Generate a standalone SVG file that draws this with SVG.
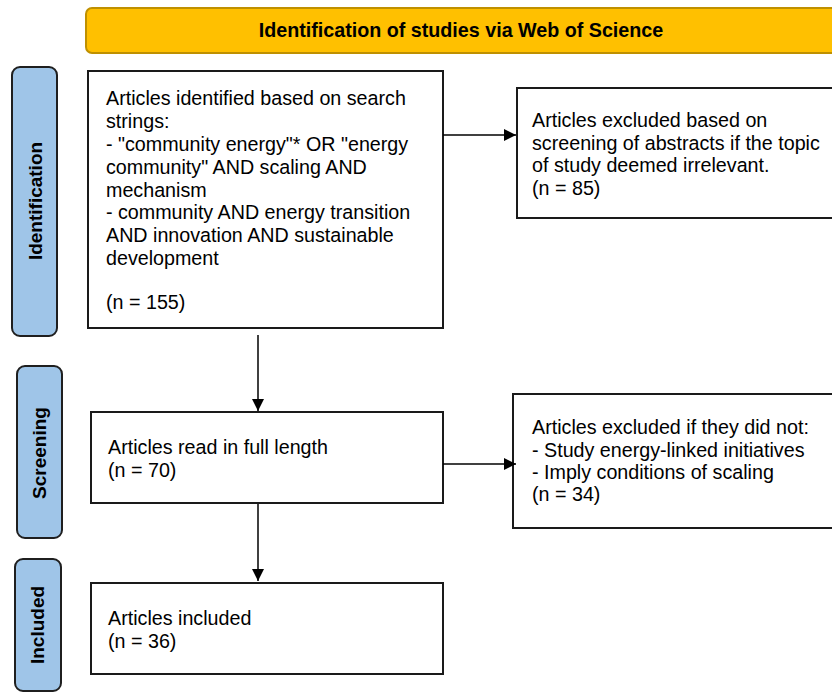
<svg xmlns="http://www.w3.org/2000/svg" width="832" height="693" viewBox="0 0 832 693">
<style>
.box{fill:#fff;stroke:#1a1a1a;stroke-width:2}
.side{fill:#9fc5e8;stroke:#1f1f1f;stroke-width:2}
.t{font-family:"Liberation Sans",Arial,sans-serif;font-size:19.7px;fill:#000}
.sl{font-family:"Liberation Sans",Arial,sans-serif;font-size:19px;font-weight:bold;fill:#000;text-anchor:middle}
.hd{font-family:"Liberation Sans",Arial,sans-serif;font-size:19.7px;font-weight:bold;fill:#000;text-anchor:middle}
.c{stroke:#000;stroke-width:1.5;fill:none}
</style>
<defs>
<marker id="ah" viewBox="0 0 12 12" refX="12" refY="6" markerWidth="12" markerHeight="12" markerUnits="userSpaceOnUse" orient="auto">
<path d="M0,0 L12,6 L0,12 Z" fill="#000"/>
</marker>
</defs>
<rect width="832" height="693" fill="#fff"/>
<g id="header">
<rect x="86" y="8" width="760" height="45" rx="6" fill="#ffc000" stroke="#bf9000" stroke-width="2"/>
<text class="hd" x="461" y="37">Identification of studies via Web of Science</text>
</g>
<g id="lbl-identification">
<rect class="side" x="12" y="67" width="45" height="269" rx="8"/>
<text class="sl" transform="translate(42,201) rotate(-90)">Identification</text>
</g>
<g id="lbl-screening">
<rect class="side" x="17" y="366" width="45" height="172" rx="8"/>
<text class="sl" transform="translate(46,453) rotate(-90)">Screening</text>
</g>
<g id="lbl-included">
<rect class="side" x="15" y="559" width="46" height="132" rx="8"/>
<text class="sl" transform="translate(44,625) rotate(-90)">Included</text>
</g>
<g id="identified">
<rect class="box" x="88" y="71" width="355" height="257"/>
<text class="t" x="106" y="105">Articles identified based on search</text>
<text class="t" x="106" y="128">strings:</text>
<text class="t" x="106" y="151">- "community energy"* OR "energy</text>
<text class="t" x="106" y="174">community" AND scaling AND</text>
<text class="t" x="106" y="197">mechanism</text>
<text class="t" x="106" y="219">- community AND energy transition</text>
<text class="t" x="106" y="242">AND innovation AND sustainable</text>
<text class="t" x="106" y="265">development</text>
<text class="t" x="106" y="309">(n = 155)</text>
</g>
<g id="excluded-abstracts">
<rect class="box" x="517" y="88" width="330" height="130"/>
<text class="t" x="532" y="127">Articles excluded based on</text>
<text class="t" x="532" y="150">screening of abstracts if the topic</text>
<text class="t" x="532" y="172">of study deemed irrelevant.</text>
<text class="t" x="532" y="195">(n = 85)</text>
</g>
<g id="full-length">
<rect class="box" x="91" y="412" width="352" height="91"/>
<text class="t" x="108" y="454">Articles read in full length</text>
<text class="t" x="108" y="477">(n = 70)</text>
</g>
<g id="excluded-full">
<rect class="box" x="513" y="394" width="330" height="134"/>
<text class="t" x="532" y="434">Articles excluded if they did not:</text>
<text class="t" x="532" y="457">- Study energy-linked initiatives</text>
<text class="t" x="532" y="479">- Imply conditions of scaling</text>
<text class="t" x="532" y="501">(n = 34)</text>
</g>
<g id="included">
<rect class="box" x="91" y="583" width="352" height="91"/>
<text class="t" x="108" y="625">Articles included</text>
<text class="t" x="108" y="648">(n = 36)</text>
</g>
<g id="connectors">
<line class="c" x1="443" y1="135" x2="516" y2="135" marker-end="url(#ah)"/>
<line class="c" x1="258" y1="335" x2="258" y2="411" marker-end="url(#ah)"/>
<line class="c" x1="443" y1="464" x2="516" y2="464" marker-end="url(#ah)"/>
<line class="c" x1="258" y1="504" x2="258" y2="581" marker-end="url(#ah)"/>
</g>
</svg>
